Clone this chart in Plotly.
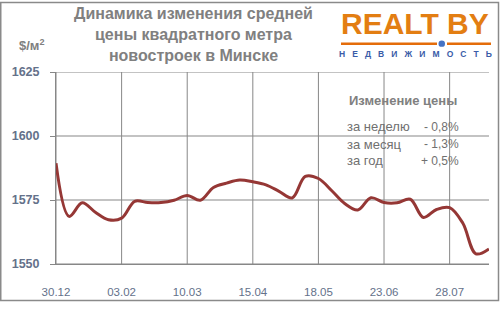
import plotly.graph_objects as go

# ---- data ----
week_index = list(range(34))
price = [1589.4, 1568.6, 1573.9, 1570.2, 1567.3, 1567.9, 1574.5, 1574.0, 1574.0, 1574.9,
         1576.8, 1574.9, 1579.9, 1581.6, 1582.8, 1582.1, 1580.9, 1578.4, 1575.8, 1584.2,
         1583.4, 1578.7, 1573.6, 1571.1, 1575.9, 1574.0, 1573.9, 1575.3, 1568.2, 1571.3,
         1572.0, 1566.0, 1554.0, 1555.9]
tick_positions = [0, 5, 10, 15, 20, 25, 30]
tick_labels = ["30.12", "03.02", "10.03", "15.04", "18.05", "23.06", "28.07"]
y_ticks = [1550, 1575, 1600, 1625]
change_periods = ["за неделю", "за месяц", "за год"]
change_values = ["- 0,8%", "- 1,3%", "+ 0,5%"]

W, H = 501, 310
ML, MR, MT, MB = 56, 12, 72, 41
PW = W - ML - MR
PH = H - MT - MB
X_RANGE = [0, 33]
Y_RANGE = [1550, 1625]


def px(x):
    return (x - ML) / PW


def py(y):
    return (H - MB - y) / PH


GRID = "#878787"
TICKC = "#64718a"
GRAYT = "#808080"

fig = go.Figure()
fig.add_trace(go.Scatter(
    x=week_index, y=price, mode="lines",
    line=dict(color="#953735", width=3, shape="spline", smoothing=1.0),
    hoverinfo="skip", showlegend=False,
))

fig.update_layout(
    width=W, height=H,
    margin=dict(l=ML, r=MR, t=MT, b=MB, pad=0),
    paper_bgcolor="white", plot_bgcolor="white",
    xaxis=dict(range=X_RANGE, tickvals=tick_positions, ticktext=tick_labels,
               showgrid=False,
               showline=True, linecolor=GRID, linewidth=1,
               ticks="outside", ticklen=0, ticklabelstandoff=17,
               tickfont=dict(family="Liberation Sans", size=11.5, color=TICKC),
               zeroline=False, fixedrange=True),
    yaxis=dict(range=Y_RANGE, tickvals=y_ticks,
               showgrid=False,
               showline=True, linecolor=GRID, linewidth=1,
               ticks="outside", ticklen=5, tickcolor=GRID, ticklabelstandoff=8,
               tickfont=dict(family="Liberation Sans", size=12.5, color=TICKC, weight="bold"),
               zeroline=False, fixedrange=True),
)

shapes = []
# gridlines (drawn as shapes so the text box can sit over them)
for xv in tick_positions:
    shapes.append(dict(type="line", xref="x", yref="y", x0=xv, x1=xv, y0=Y_RANGE[0], y1=Y_RANGE[1],
                       line=dict(color=GRID, width=1), layer="below"))
for yv in y_ticks:
    shapes.append(dict(type="line", xref="x", yref="y", x0=X_RANGE[0], x1=X_RANGE[1], y0=yv, y1=yv,
                       line=dict(color=GRID, width=1), layer="below"))
# text box background
shapes.append(dict(type="rect", xref="paper", yref="paper",
                   x0=px(335), x1=px(490), y0=py(201.5), y1=py(73.5),
                   line=dict(width=0), fillcolor="white", layer="below"))
# outer border
shapes.append(dict(type="rect", xref="paper", yref="paper",
                   x0=px(0.75), x1=px(498.5), y0=py(306.5), y1=py(0.75),
                   line=dict(color="#8a8a8a", width=1.5), fillcolor="rgba(0,0,0,0)", layer="above"))
# logo underline
shapes.append(dict(type="line", xref="paper", yref="paper",
                   x0=px(341), x1=px(437), y0=py(43), y1=py(43),
                   line=dict(color="#E46C0A", width=2.5)))
shapes.append(dict(type="line", xref="paper", yref="paper",
                   x0=px(447), x1=px(491), y0=py(43), y1=py(43),
                   line=dict(color="#E46C0A", width=2.5)))
shapes.append(dict(type="circle", xref="paper", yref="paper",
                   x0=px(438.5), x1=px(445), y0=py(46.2), y1=py(39.7),
                   line=dict(color="#4472C4", width=0), fillcolor="#4472C4"))
fig.update_layout(shapes=shapes)

ann = []
ann.append(dict(xref="paper", yref="paper", x=px(193), y=py(34), xanchor="center", yanchor="middle",
                text="Динамика изменения средней<br>цены квадратного метра<br>новостроек в Минске",
                showarrow=False, align="center",
                font=dict(family="Liberation Sans", size=16, color=GRAYT, weight="bold")))
ann.append(dict(xref="paper", yref="paper", x=px(17), y=py(44), xanchor="left", yanchor="middle",
                text="$/м<sup>2</sup>", showarrow=False,
                font=dict(family="Liberation Sans", size=13, color=GRAYT, weight="bold")))
ann.append(dict(xref="paper", yref="paper", x=px(415), y=py(22), xanchor="center", yanchor="middle",
                text="REALT BY", showarrow=False,
                font=dict(family="Liberation Sans", size=30, color="#E37E12", weight="bold")))
ann.append(dict(xref="paper", yref="paper", x=px(415), y=py(54), xanchor="center", yanchor="middle",
                text="Н   Е   Д   В   И   Ж   И   М   О   С   Т   Ь", showarrow=False,
                font=dict(family="Liberation Sans", size=8.5, color="#3A5CA8", weight="bold")))
ann.append(dict(xref="paper", yref="paper", x=px(347), y=py(101), xanchor="left", yanchor="middle",
                text="Изменение цены", showarrow=False,
                font=dict(family="Liberation Sans", size=13, color=GRAYT, weight="bold")))
row_y = [128, 146, 163]
for per, val, yy in zip(change_periods, change_values, row_y):
    ann.append(dict(xref="paper", yref="paper", x=px(345), y=py(yy), xanchor="left", yanchor="middle",
                    text=per, showarrow=False,
                    font=dict(family="Liberation Sans", size=13, color="#707070")))
    ann.append(dict(xref="paper", yref="paper", x=px(461), y=py(yy), xanchor="right", yanchor="middle",
                    text=val, showarrow=False,
                    font=dict(family="Liberation Sans", size=12, color="#707070")))
fig.update_layout(annotations=ann)

fig.write_html("out.html", config={"displayModeBar": False})
